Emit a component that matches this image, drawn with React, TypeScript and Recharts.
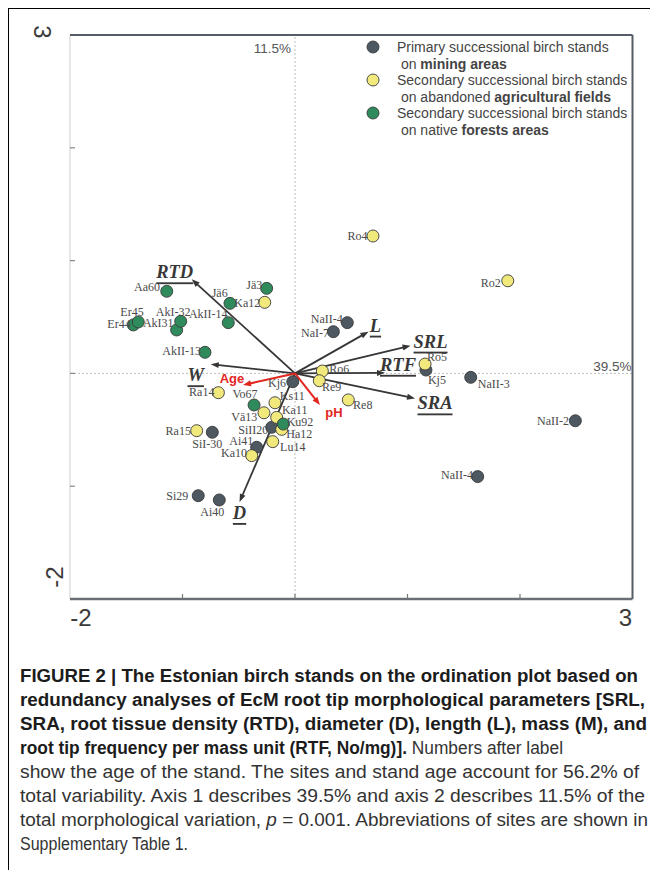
import React from 'react';
import { ScatterChart, Scatter, XAxis, YAxis, ReferenceLine, Legend } from 'recharts';

// ---------- DATA ----------
// Primary successional birch stands on mining areas
const miningLabels = ['NaII-4', 'NaI-7', 'Kj5', 'NaII-3', 'NaII-2', 'NaII-4', 'Kj6', 'SiII20', 'Ai41', 'SiI-30', 'Si29', 'Ai40'];
const miningX = [0.465, 0.341, 1.164, 1.562, 2.492, 1.624, -0.02, -0.207, -0.341, -0.735, -0.86, -0.673];
const miningY = [0.45, 0.37, 0.03, -0.035, -0.42, -0.915, -0.074, -0.478, -0.655, -0.522, -1.084, -1.122];

// Secondary successional birch stands on abandoned agricultural fields
const agriLabels = ['Ro4', 'Ro2', 'Ro6', 'Re9', 'Re8', 'Ro5', 'Ka12', 'Ra14', 'Ks11', 'Vä13', 'Ka11', 'Ha12', 'Lu14', 'Ka10', 'Ra15'];
const agriX = [0.693, 1.891, 0.243, 0.216, 0.474, 1.156, -0.269, -0.681, -0.178, -0.276, -0.163, -0.118, -0.198, -0.385, -0.874];
const agriY = [1.218, 0.821, 0.021, -0.065, -0.235, 0.083, 0.63, -0.171, -0.26, -0.349, -0.39, -0.496, -0.605, -0.729, -0.508];

// Secondary successional birch stands on native forest areas
const forestLabels = ['Er44', 'Er45', 'Aa60', 'Jä3', 'Jä6', 'AkII-14', 'AkI31', 'AkI-32', 'AkII-13', 'Vo67', 'Ku92'];
const forestX = [-1.437, -1.393, -1.14, -0.252, -0.578, -0.593, -1.052, -1.016, -0.8, -0.364, -0.104];
const forestY = [0.43, 0.456, 0.728, 0.754, 0.621, 0.45, 0.385, 0.462, 0.187, -0.28, -0.449];

// Morphological parameter vectors
const paramNames = ['RTD', 'W', 'L', 'SRL', 'RTF', 'SRA', 'D'];
const paramX = [-0.918, -0.749, 0.653, 1.027, 0.8, 1.067, -0.493];
const paramY = [0.834, 0.081, 0.37, 0.246, 0.005, -0.222, -1.14];

// Environmental vectors
const envNames = ['Age', 'pH'];
const envX = [-0.462, 0.222];
const envY = [-0.103, -0.28];

const axisTicks = [-2, -1, 0, 1, 2, 3];
const xAxisPercent = '39.5%';
const yAxisPercent = '11.5%';

const legendEntries = [
  { key: 'mining', line1: 'Primary successional birch stands', line2a: ' on ', line2b: 'mining areas' },
  { key: 'agri', line1: 'Secondary successional birch stands', line2a: ' on abandoned ', line2b: 'agricultural fields' },
  { key: 'forest', line1: 'Secondary successional birch stands', line2a: ' on native ', line2b: 'forests areas' },
];

// ---------- LAYOUT / STYLE ----------
const COLORS = { mining: '#4e5860', agri: '#f1e97c', forest: '#2f8b5b' };
const miningLabelOffsets = [[-20.6, -3.7], [-18.3, 1], [11, 10], [23, 6.7], [-22.3, 0], [-20.7, -1.4], [-15.7, 1], [-18.4, 2.7], [-15.4, -6.6], [-5, 11.7], [-21, 0], [-7, 12]];
const agriLabelOffsets = [[-15.5, 0], [-17, 2], [17, -1.7], [12.4, 6], [14.4, 5], [12, -7.3], [-17.4, 1], [-16.6, -1], [17.3, -7], [-19.7, 4], [18, -7.3], [17.6, 5], [20, 5.6], [-17.7, -2.4], [-18.4, 0]];
const forestLabelOffsets = [[-14.3, -0.7], [-6.3, -9.7], [-19.7, -4], [-12.4, -3.3], [-10.3, -10], [-20, -9], [-18.4, -6.7], [-7.5, -9.3], [-23.3, -1.3], [-9, -11], [16.7, -2.3]];
const paramLabelOffsets = [[-17, -7], [-15, 11], [7, -6], [20, -4], [13, -8], [20, 5], [0, 11]];
const envLabelOffsets = [[-11, -7], [14, 8]];

const build = (labels: string[], xs: number[], ys: number[], offs: number[][]) =>
  labels.map((label, i) => ({ label, x: xs[i], y: ys[i], dx: offs[i][0], dy: offs[i][1] }));

const miningData = build(miningLabels, miningX, miningY, miningLabelOffsets);
const agriData = build(agriLabels, agriX, agriY, agriLabelOffsets);
const forestData = build(forestLabels, forestX, forestY, forestLabelOffsets);
const allLabelData = [...miningData, ...agriData, ...forestData];

const dotShape = (fill: string) => (props: any) => {
  const { cx, cy } = props;
  if (cx == null || cy == null) return <g />;
  return <circle cx={cx} cy={cy} r={6} fill={fill} stroke="#3a3a3a" strokeWidth={0.9} />;
};

const labelShape = (props: any) => {
  const { cx, cy, payload } = props;
  if (cx == null || cy == null) return <g />;
  return (
    <text
      x={cx + payload.dx}
      y={cy + payload.dy}
      textAnchor="middle"
      dominantBaseline="central"
      fontFamily="'Liberation Serif', 'DejaVu Serif', serif"
      fontSize={12}
      fill="#4a4a4a"
    >
      {payload.label}
    </text>
  );
};

const arrowShape = (name: string, color: string, dx: number, dy: number, red: boolean) => (props: any) => {
  const { x1, y1, x2, y2 } = props;
  if ([x1, y1, x2, y2].some((v) => v == null || isNaN(v))) return <g />;
  const ang = Math.atan2(y2 - y1, x2 - x1);
  const len = 8;
  const half = 3;
  const bx = x2 - len * Math.cos(ang);
  const by = y2 - len * Math.sin(ang);
  const px = -Math.sin(ang) * half;
  const py = Math.cos(ang) * half;
  return (
    <g>
      <line x1={x1} y1={y1} x2={bx + Math.cos(ang) * 2} y2={by + Math.sin(ang) * 2} stroke={color} strokeWidth={red ? 2 : 1.8} />
      <polygon points={`${x2},${y2} ${bx + px},${by + py} ${bx - px},${by - py}`} fill={color} />
      {red ? (
        <text x={x2 + dx} y={y2 + dy} textAnchor="middle" dominantBaseline="central" fontFamily="'Liberation Sans', Arial, sans-serif" fontWeight="bold" fontSize={13} fill={color}>
          {name}
        </text>
      ) : (
        <text
          x={x2 + dx}
          y={y2 + dy}
          textAnchor="middle"
          dominantBaseline="central"
          fontFamily="'Liberation Serif', 'DejaVu Serif', serif"
          fontWeight="bold"
          fontStyle="italic"
          fontSize={18.5}
          fill="#383838"
          style={{ textDecoration: 'underline' }}
        >
          {name}
        </text>
      )}
    </g>
  );
};

const XTick = (props: any) => {
  const { x, y, payload } = props;
  const v = payload && payload.value;
  const edge = v === -2 || v === 3;
  return (
    <g>
      {!edge && <line x1={x} y1={y} x2={x} y2={y - 5} stroke="#777" strokeWidth={1.2} />}
      {edge && (
        <text x={x + (v === -2 ? 11 : -7)} y={y + 18} textAnchor="middle" dominantBaseline="central" fontFamily="'Liberation Sans', Arial, sans-serif" fontSize={24} fill="#3a3a3a">
          {String(v)}
        </text>
      )}
    </g>
  );
};

const YTick = (props: any) => {
  const { x, y, payload } = props;
  const v = payload && payload.value;
  const edge = v === -2 || v === 3;
  const lx = v === 3 ? x - 28 : x - 16;
  const ly = v === 3 ? y - 3 : y - 22;
  const rot = v === 3 ? 90 : -90;
  return (
    <g>
      {!edge && <line x1={x} y1={y} x2={x + 5} y2={y} stroke="#888" strokeWidth={1.2} />}
      {edge && (
        <text transform={`translate(${lx},${ly}) rotate(${rot})`} textAnchor="middle" dominantBaseline="central" fontFamily="'Liberation Sans', Arial, sans-serif" fontSize={24} fill="#3a3a3a">
          {String(v)}
        </text>
      )}
    </g>
  );
};

const legendColors = [COLORS.mining, COLORS.agri, COLORS.forest];

const LegendContent = () => (
  <div style={{ position: 'relative', width: 290, height: 110, fontFamily: "'Liberation Sans', Arial, sans-serif", fontSize: 14, color: '#444' }}>
    {legendEntries.map((e, i) => {
      const cy = 12 + i * 33;
      return (
        <React.Fragment key={e.key}>
          <svg style={{ position: 'absolute', left: 7, top: cy - 7 }} width={14} height={14}>
            <circle cx={7} cy={7} r={6} fill={legendColors[i]} stroke="#3a3a3a" strokeWidth={0.9} />
          </svg>
          <div style={{ position: 'absolute', left: 38, top: cy - 8, lineHeight: '16px', whiteSpace: 'nowrap' }}>{e.line1}</div>
          <div style={{ position: 'absolute', left: 38, top: cy + 8.5, lineHeight: '16px', whiteSpace: 'pre' }}>
            {e.line2a}
            <b>{e.line2b}</b>
          </div>
        </React.Fragment>
      );
    })}
  </div>
);

const pctLabelX = (props: any) => {
  const { viewBox } = props;
  return (
    <text x={viewBox.x - 4} y={viewBox.y + 13} textAnchor="end" dominantBaseline="central" fontFamily="'Liberation Sans', Arial, sans-serif" fontSize={13.5} fill="#555">
      {yAxisPercent}
    </text>
  );
};
const pctLabelY = (props: any) => {
  const { viewBox } = props;
  return (
    <text x={viewBox.x + viewBox.width - 1} y={viewBox.y - 7} textAnchor="end" dominantBaseline="central" fontFamily="'Liberation Sans', Arial, sans-serif" fontSize={13.5} fill="#555">
      {xAxisPercent}
    </text>
  );
};

const captionLines = [
  { w: 618, parts: [{ t: 'FIGURE 2 | The Estonian birch stands on the ordination plot based on', b: true }] },
  { w: 625, parts: [{ t: 'redundancy analyses of EcM root tip morphological parameters [SRL,', b: true }] },
  { w: 627, parts: [{ t: 'SRA, root tissue density (RTD), diameter (D), length (L), mass (M), and', b: true }] },
  { w: 543, parts: [{ t: 'root tip frequency per mass unit (RTF, No/mg)].', b: true }, { t: ' Numbers after label', b: false }] },
  { w: 619, parts: [{ t: 'show the age of the stand. The sites and stand age account for 56.2% of', b: false }] },
  { w: 625, parts: [{ t: 'total variability. Axis 1 describes 39.5% and axis 2 describes 11.5% of the', b: false }] },
  { w: 628, parts: [{ t: 'total morphological variation, ', b: false }, { t: 'p', b: false, i: true }, { t: ' = 0.001. Abbreviations of sites are shown in', b: false }] },
  { w: 168, parts: [{ t: 'Supplementary Table 1.', b: false }] },
];

export default function App() {
  return (
    <div
      style={{
        position: 'relative',
        width: 641,
        height: 861,
        borderTop: '1px solid #000',
        borderLeft: '1px solid #000',
        borderRight: '1px solid #000',
        background: '#fff',
      }}
    >
      <style>{'html,body{overflow:hidden;}'}</style>
      <div style={{ position: 'absolute', left: 0, top: 0 }}>
        <ScatterChart width={641} height={640} margin={{ left: 0, top: 26, right: 17.5, bottom: 0 }}>
          <XAxis type="number" dataKey="x" domain={[-2, 3]} ticks={axisTicks} interval={0} axisLine={false} tickLine={false} tickSize={0} tickMargin={0} height={50} tick={<XTick />} allowDataOverflow />
          <YAxis type="number" dataKey="y" domain={[-2, 3]} ticks={axisTicks} interval={0} axisLine={false} tickLine={false} tickSize={0} tickMargin={0} width={61} tick={<YTick />} allowDataOverflow />

          <ReferenceLine x={0} stroke="#b5b5b5" strokeWidth={0.9} strokeDasharray="2 2" label={pctLabelX} />
          <ReferenceLine y={0} stroke="#b5b5b5" strokeWidth={0.9} strokeDasharray="2 2" label={pctLabelY} />
          <ReferenceLine x={-2} stroke="#cfcfcf" strokeWidth={1} />
          <ReferenceLine y={3} stroke="#555d66" strokeWidth={2} />
          <ReferenceLine x={3} stroke="#555d66" strokeWidth={2} />
          <ReferenceLine y={-2} stroke="#6a6f75" strokeWidth={2.5} />

          <Scatter name="mining" data={miningData} fill={COLORS.mining} shape={dotShape(COLORS.mining)} isAnimationActive={false} />
          <Scatter name="agri" data={agriData} fill={COLORS.agri} shape={dotShape(COLORS.agri)} isAnimationActive={false} />
          <Scatter name="forest" data={forestData} fill={COLORS.forest} shape={dotShape(COLORS.forest)} isAnimationActive={false} />

          {paramNames.map((n, i) => (
            <ReferenceLine
              key={n}
              segment={[{ x: 0, y: 0 }, { x: paramX[i], y: paramY[i] }]}
              ifOverflow="visible"
              shape={arrowShape(n, '#363636', paramLabelOffsets[i][0], paramLabelOffsets[i][1], false)}
            />
          ))}
          {envNames.map((n, i) => (
            <ReferenceLine
              key={n}
              segment={[{ x: 0, y: 0 }, { x: envX[i], y: envY[i] }]}
              ifOverflow="visible"
              shape={arrowShape(n, '#e2271f', envLabelOffsets[i][0], envLabelOffsets[i][1], true)}
            />
          ))}

          <Scatter name="labels" data={allLabelData} shape={labelShape} legendType="none" isAnimationActive={false} />

          <Legend
            verticalAlign="middle"
            align="center"
            layout="horizontal"
            content={<LegendContent />}
            wrapperStyle={{ position: 'absolute', left: 350, top: 26, width: 290, height: 110 }}
          />
        </ScatterChart>
      </div>
      <svg style={{ position: 'absolute', left: 0, top: 640 }} width={641} height={221}>
        {captionLines.map((ln, k) => (
          <text
            key={k}
            x={11}
            y={33 + k * 24}
            textLength={ln.w}
            lengthAdjust="spacingAndGlyphs"
            fontFamily="'Liberation Sans', Arial, sans-serif"
            fontSize={17.5}
            fill="#222"
          >
            {ln.parts.map((p: any, j: number) => (
              <tspan key={j} fontWeight={p.b ? 'bold' : 'normal'} fontStyle={p.i ? 'italic' : 'normal'} fill={p.b ? '#1c1c1c' : '#333'}>
                {p.t}
              </tspan>
            ))}
          </text>
        ))}
      </svg>
    </div>
  );
}
